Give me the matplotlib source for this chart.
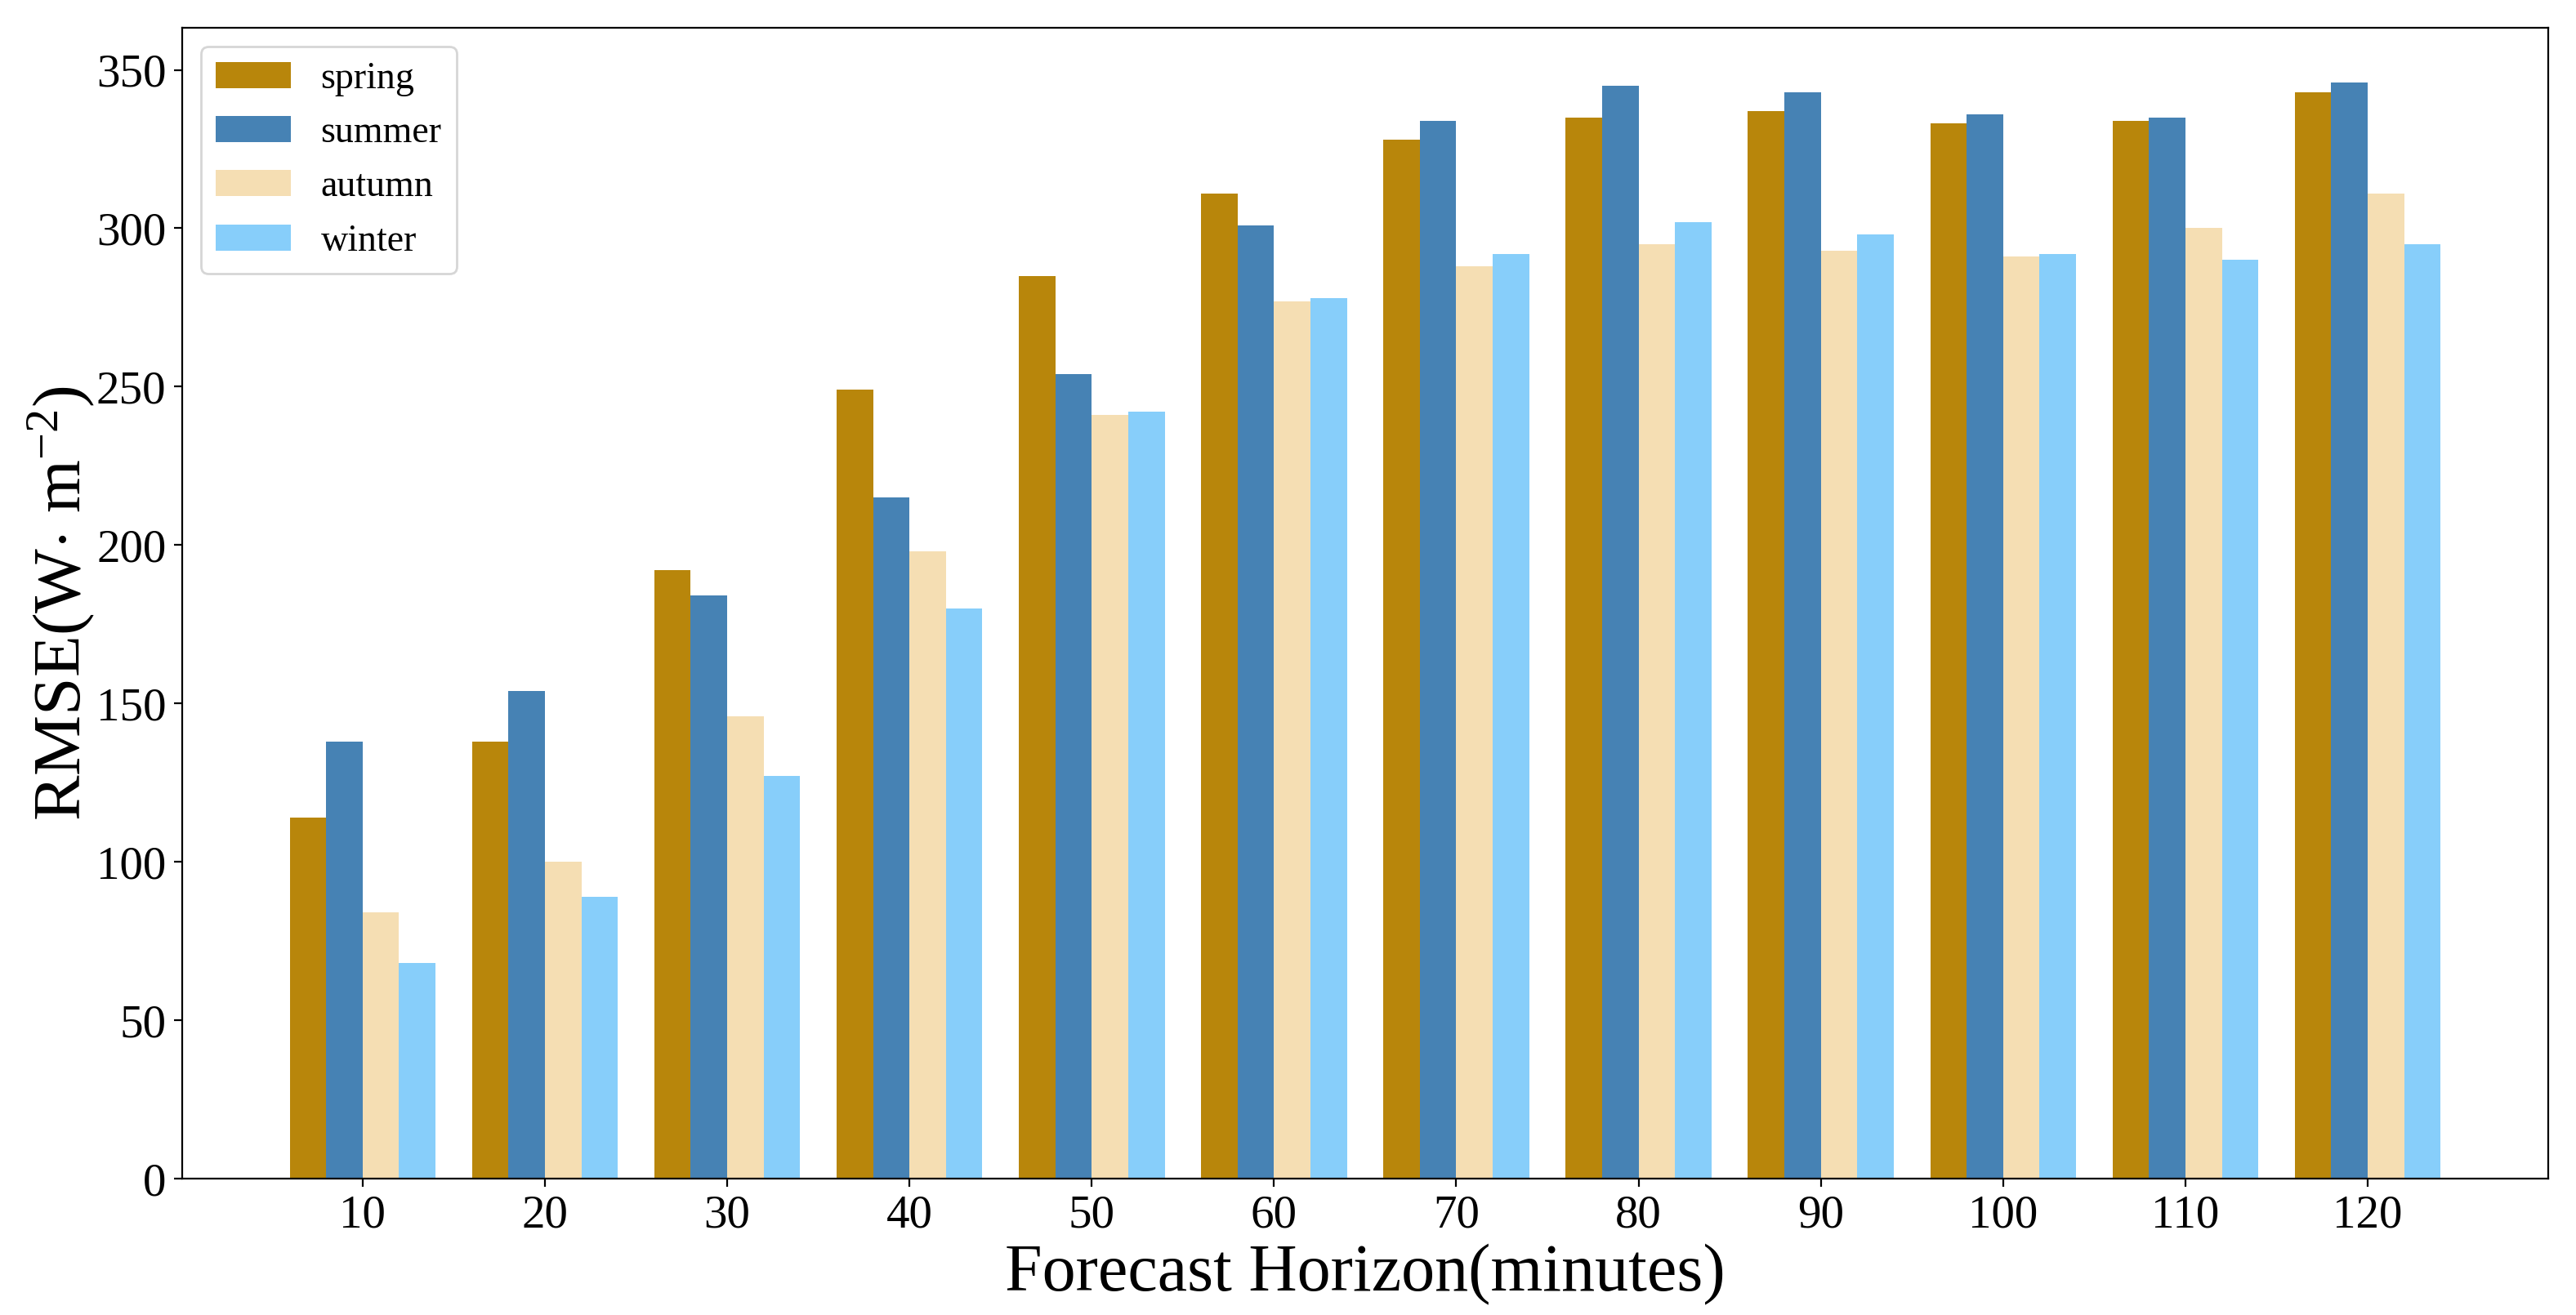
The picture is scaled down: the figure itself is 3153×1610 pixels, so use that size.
import matplotlib
matplotlib.use("Agg")
import matplotlib.pyplot as plt
import numpy as np

# forecast horizons (minutes)
horizons = [10, 20, 30, 40, 50, 60, 70, 80, 90, 100, 110, 120]

# RMSE per season
spring = [114, 138, 192, 249, 285, 311, 328, 335, 337, 333, 334, 343]
summer = [138, 154, 184, 215, 254, 301, 334, 345, 343, 336, 335, 346]
autumn = [84, 100, 146, 198, 241, 277, 288, 295, 293, 291, 300, 311]
winter = [68, 89, 127, 180, 242, 278, 292, 302, 298, 292, 290, 295]

seasons = ["spring", "summer", "autumn", "winter"]
colors = ["darkgoldenrod", "steelblue", "wheat", "lightskyblue"]

plt.rcParams["font.family"] = ["Liberation Serif", "DejaVu Serif"]
plt.rcParams["mathtext.fontset"] = "custom"
plt.rcParams["mathtext.rm"] = "Liberation Serif"
plt.rcParams["mathtext.it"] = "Liberation Serif:italic"

fig = plt.figure(figsize=(15.765, 8.05), dpi=200)
ax = fig.add_axes([0.0707, 0.1037, 0.9185, 0.8752])

x = np.array(horizons, dtype=float)
width = 2.0
for i, (name, vals) in enumerate(zip(seasons, [spring, summer, autumn, winter])):
    ax.bar(x + (i - 1.5) * width, vals, width=width, color=colors[i], label=name)

ax.set_xticks(horizons)
ax.tick_params(axis="both", labelsize=20.5)
ax.set_xlabel("Forecast Horizon(minutes)", fontsize=29.5, labelpad=3)
ax.set_ylabel("RMSE(W$\\cdot$ m$^{-2}$)", fontsize=30, labelpad=0)
ax.legend(loc="upper left", fontsize=16.5, labelspacing=0.52)

fig.savefig("out.png", dpi=200)
